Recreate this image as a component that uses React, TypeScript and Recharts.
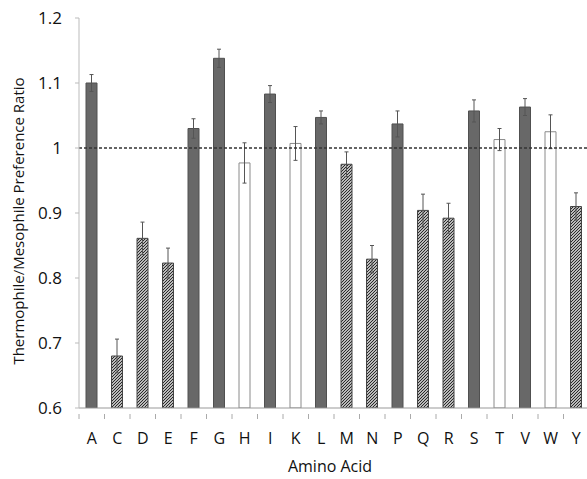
import { BarChart, Bar, XAxis, YAxis, ErrorBar, Cell, ReferenceLine } from 'recharts';

// amino acids along the x axis
const AMINO_ACIDS = ['A', 'C', 'D', 'E', 'F', 'G', 'H', 'I', 'K', 'L', 'M', 'N', 'P', 'Q', 'R', 'S', 'T', 'V', 'W', 'Y'];
// thermophile / mesophile preference ratio
const RATIOS = [1.100, 0.680, 0.861, 0.823, 1.030, 1.138, 0.977, 1.083, 1.007, 1.047, 0.975, 0.829, 1.037, 0.904, 0.892, 1.057, 1.013, 1.063, 1.025, 0.910];
const ERRORS = [0.013, 0.026, 0.025, 0.023, 0.015, 0.014, 0.031, 0.013, 0.026, 0.010, 0.019, 0.021, 0.020, 0.025, 0.023, 0.017, 0.017, 0.013, 0.026, 0.021];
// which bars are significantly above / below 1, or neither
const GROUPS = ['thermo', 'meso', 'meso', 'meso', 'thermo', 'thermo', 'none', 'thermo', 'none', 'thermo', 'meso', 'meso', 'thermo', 'meso', 'meso', 'thermo', 'none', 'thermo', 'none', 'meso'];
const Y_TICKS = [0.6, 0.7, 0.8, 0.9, 1, 1.1, 1.2];

const FONT = '"Open Sans", sans-serif';

const data = AMINO_ACIDS.map((aa, i) => ({
  aa,
  ratio: RATIOS[i],
  err: ERRORS[i],
  group: GROUPS[i],
}));

const FILLS: Record<string, string> = {
  thermo: '#686868',
  meso: 'url(#hatch)',
  none: '#ffffff',
};
const STROKES: Record<string, string> = {
  thermo: '#505050',
  meso: '#444444',
  none: '#8a8a8a',
};

// Excel-style tick: label in the middle of the band, tick mark on the band's left edge
function CategoryTick(props: any) {
  const { x, y, payload } = props;
  const half = payload?.offset || 12.75;
  return (
    <g>
      <line x1={x - half} y1={y - 2} x2={x - half} y2={y + 3} stroke="#aaa" />
      <text x={x} y={y + 28} textAnchor="middle" fontSize={16} fontFamily={FONT} fill="#111">
        {payload.value}
      </text>
    </g>
  );
}

function YTitle(props: any) {
  const vb = props.viewBox || { x: 0, y: 18, width: 79, height: 390 };
  const cx = vb.x + 18;
  const cy = vb.y + vb.height / 2 + 8;
  return (
    <text
      x={cx}
      y={cy}
      transform={`rotate(-90 ${cx} ${cy})`}
      textAnchor="middle"
      dominantBaseline="central"
      fontSize={15}
      fontFamily={FONT}
      fill="#111"
    >
      Thermophile/Mesophile Preference Ratio
    </text>
  );
}

export default function App() {
  return (
    <div style={{ position: 'absolute', left: 0, top: 0, width: 587, height: 479, overflow: 'hidden', background: '#fff' }}>
      <BarChart width={600} height={479} data={data} margin={{ top: 18, right: 11, left: 0, bottom: 0 }}>
        <defs>
          <pattern id="hatch" patternUnits="userSpaceOnUse" width="3" height="3">
            <rect width="3" height="3" fill="#fff" />
            <path d="M-1,1 l2,-2 M0,3 l3,-3 M2,4 l2,-2" stroke="#222" strokeWidth={1.2} />
          </pattern>
        </defs>
        <XAxis
          dataKey="aa"
          height={71}
          axisLine={{ stroke: '#999' }}
          tickLine={false}
          interval={0}
          tick={<CategoryTick />}
        />
        <YAxis
          width={79}
          domain={[0.6, 1.2]}
          ticks={Y_TICKS}
          allowDataOverflow
          axisLine={{ stroke: '#bbb' }}
          tickLine={{ stroke: '#bbb' }}
          tickSize={4}
          tickMargin={13}
          tick={{ fontSize: 17, fontFamily: FONT, fill: '#111' }}
          label={<YTitle />}
        />
        <Bar dataKey="ratio" barSize={11} isAnimationActive={false}>
          {data.map(d => (
            <Cell key={d.aa} fill={FILLS[d.group]} stroke={STROKES[d.group]} strokeWidth={1} />
          ))}
          <ErrorBar dataKey="err" width={2} stroke="#555" strokeWidth={1} />
        </Bar>
        <ReferenceLine y={1} stroke="#333" strokeDasharray="3 2" strokeWidth={1.3} />
        <text x={330} y={472} textAnchor="middle" fontSize={16} fontFamily={FONT} fill="#111">
          Amino Acid
        </text>
      </BarChart>
    </div>
  );
}
